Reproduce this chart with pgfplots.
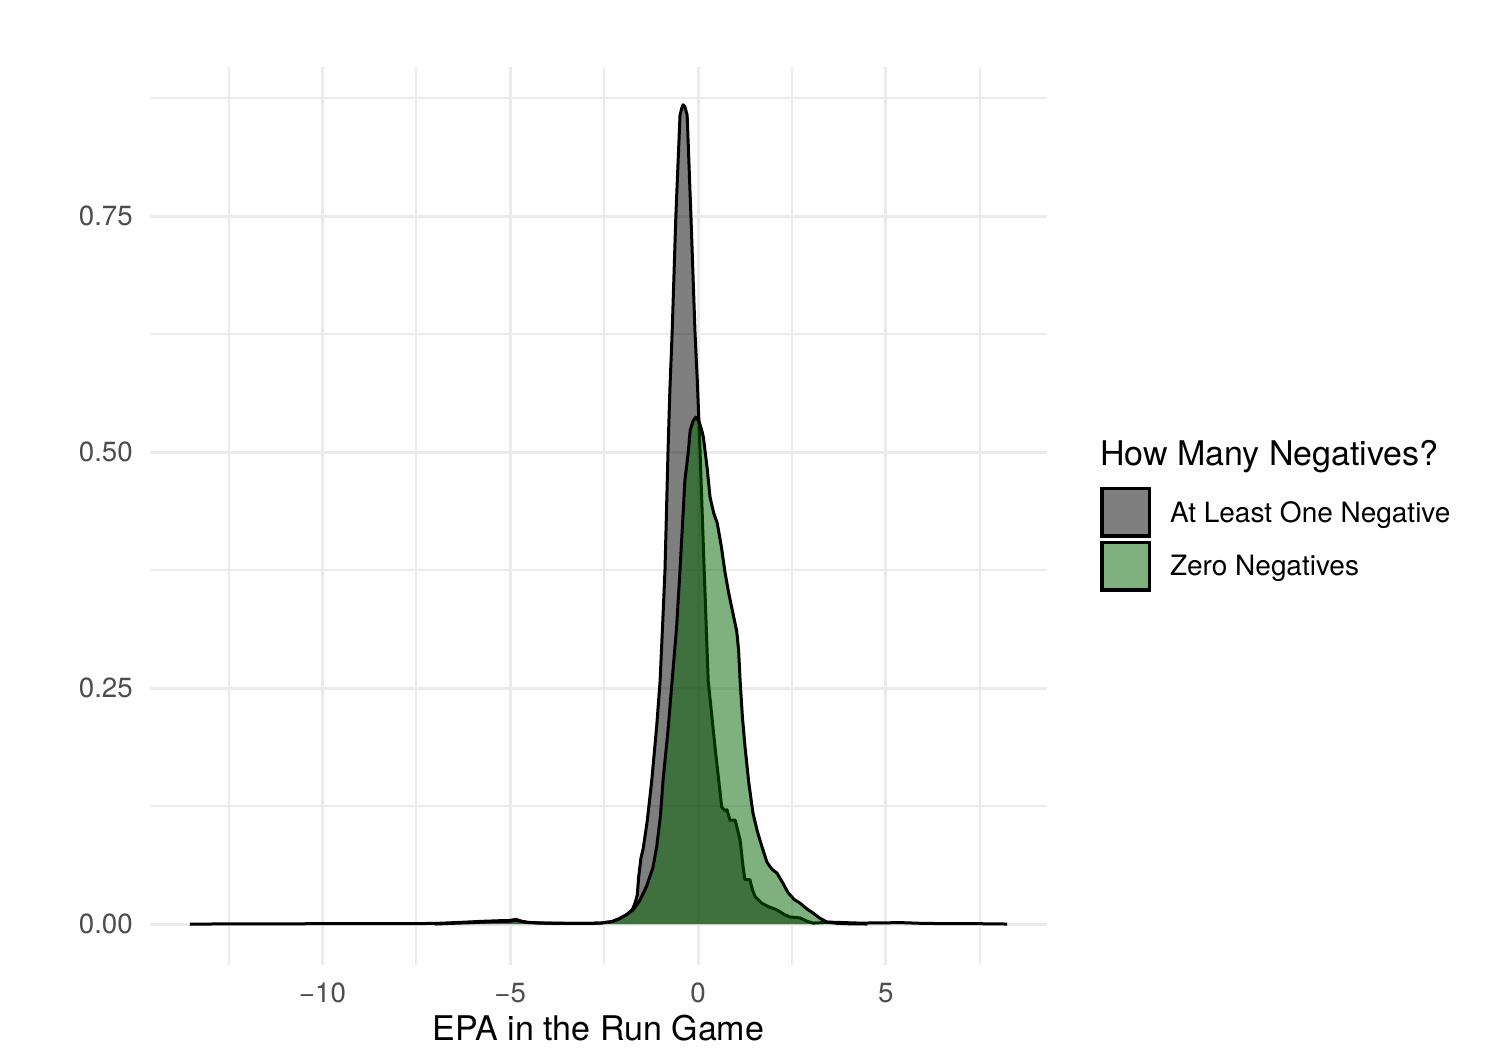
\documentclass[border=0pt]{standalone}
\usepackage{pgfplots}
\pgfplotsset{compat=1.18}
\usepackage{fontspec}
\setmainfont{TeX Gyre Heros}
\definecolor{gridc}{HTML}{EBEBEB}
\definecolor{tickc}{HTML}{4D4D4D}
\definecolor{dkgreen}{RGB}{0,100,0}
\definecolor{keygray}{RGB}{127,127,127}
\definecolor{keygreen}{RGB}{127,177,127}

\pgfplotstableread{
x y
-13.53 0
-12 0.0001
-10.5 0.0003
-9 0.0004
-7.5 0.0004
-6.9 0.0008
-6.3 0.0018
-5.8 0.0028
-5.3 0.0035
-5.0 0.0038
-4.85 0.0050
-4.7 0.0030
-4.5 0.0015
-4.0 0.0010
-3.5 0.0008
-3.0 0.0006
-2.6 0.0010
-2.3 0.0025
-2.1 0.0055
-1.9 0.0100
-1.75 0.0150
-1.68 0.022
-1.62 0.030
-1.58 0.050
-1.52 0.070
-1.46 0.080
-1.35 0.110
-1.23 0.153
-1.10 0.210
-1.01 0.258
-0.94 0.320
-0.88 0.375
-0.80 0.500
-0.75 0.566
-0.69 0.626
-0.59 0.751
-0.48 0.857
-0.43 0.865
-0.40 0.868
-0.35 0.866
-0.29 0.857
-0.19 0.751
-0.08 0.626
-0.02 0.576
0.05 0.505
0.15 0.390
0.27 0.258
0.45 0.188
0.63 0.124
0.72 0.120
0.77 0.121
0.85 0.110
0.99 0.110
1.05 0.100
1.12 0.089
1.20 0.060
1.25 0.047
1.38 0.047
1.45 0.036
1.52 0.029
1.70 0.022
1.90 0.018
2.10 0.015
2.30 0.010
2.45 0.0074
2.60 0.0070
2.72 0.0064
2.90 0.003
3.06 0.001
3.30 0.0015
3.50 0.002
3.90 0.0015
4.30 0.0010
4.80 0.0012
5.40 0.0015
5.90 0.0008
6.40 0.0005
7.00 0.0004
7.60 0.0003
8.23 0
}\grayData

\pgfplotstableread{
x y
-7.0 0
-6.5 0.0008
-6.0 0.0015
-5.5 0.0025
-5.0 0.0030
-4.85 0.0040
-4.6 0.0020
-4.2 0.0010
-3.5 0.0006
-3.0 0.0006
-2.6 0.0010
-2.3 0.0025
-2.1 0.0055
-1.9 0.0100
-1.73 0.0150
-1.55 0.025
-1.37 0.040
-1.20 0.060
-1.10 0.082
-1.00 0.115
-0.93 0.153
-0.80 0.205
-0.69 0.258
-0.57 0.315
-0.48 0.375
-0.35 0.470
-0.26 0.500
-0.21 0.523
-0.13 0.533
-0.06 0.537
0.02 0.533
0.10 0.523
0.14 0.516
0.24 0.484
0.32 0.452
0.42 0.435
0.51 0.425
0.62 0.400
0.72 0.372
0.82 0.350
0.93 0.329
1.03 0.310
1.08 0.290
1.12 0.258
1.18 0.220
1.25 0.188
1.35 0.150
1.46 0.118
1.58 0.098
1.70 0.082
1.84 0.065
1.97 0.058
2.10 0.054
2.25 0.044
2.40 0.033
2.56 0.026
2.72 0.022
2.90 0.016
3.06 0.0117
3.25 0.006
3.44 0.002
3.70 0.0008
4.00 0.0003
4.50 0
}\greenData

\begin{document}
\begin{tikzpicture}
\path[use as bounding box, fill=white] (0,0) rectangle (1503bp,1051bp);
\begin{axis}[
  at={(150bp,86bp)}, anchor=south west,
  scale only axis, width=897bp, height=898bp,
  xmin=-14.59, xmax=9.29, ymin=-0.0434, ymax=0.908,
  axis line style={draw=none},
  major tick length=0pt, minor tick length=0pt,
  xtick={-10,-5,0,5},
  xticklabels={−10,−5,0,5},
  minor xtick={-12.5,-7.5,-2.5,2.5,7.5},
  ytick={0,0.25,0.5,0.75},
  yticklabels={0.00,0.25,0.50,0.75},
  minor ytick={0.125,0.375,0.625,0.875},
  grid=both,
  major grid style={color=gridc, line width=3bp},
  minor grid style={color=gridc, line width=2bp},
  tick label style={font=\fontsize{27.7bp}{33bp}\selectfont, text=tickc, inner sep=0pt},
  xticklabel style={anchor=north, yshift=-18bp},
  yticklabel style={anchor=east, xshift=-17bp},
  xlabel={EPA in the Run Game},
  xlabel style={at={(axis description cs:0.5,0)}, anchor=base, yshift=-75bp, inner sep=0pt,
    font=\fontsize{34bp}{40bp}\selectfont},
  legend image code/.code={\draw[#1, line width=3.5bp] (1.75bp,-23.75bp) rectangle (49.25bp,23.75bp);},
  legend style={at={(axis description cs:1.0591,0.5323)}, anchor=north west,
    draw=none, fill=none, inner sep=0pt, outer sep=0pt,
    row sep=3bp, column sep=0bp,
    nodes={inner sep=0pt, font=\fontsize{28bp}{33bp}\selectfont, text=black},
    cells={anchor=west}},
  legend cell align=left,
  clip=false,
]
\addlegendimage{fill=keygray, draw=black}
\addlegendentry{\hspace{19bp}At Least One Negative}
\addlegendimage{fill=keygreen, draw=black}
\addlegendentry{\hspace{19bp}Zero Negatives}
\addplot[forget plot, draw=none, fill=black, fill opacity=0.5] table[x=x,y=y] {\grayData} \closedcycle;
\addplot[forget plot, draw=black, line width=3bp, line join=round] table[x=x,y=y] {\grayData};
\addplot[forget plot, draw=none, fill=dkgreen, fill opacity=0.5] table[x=x,y=y] {\greenData} \closedcycle;
\addplot[forget plot, draw=black, line width=3bp, line join=round] table[x=x,y=y] {\greenData};
\end{axis}
\node[anchor=base west, inner sep=0pt, font=\fontsize{34bp}{40bp}\selectfont] at (1100bp,585bp) {How Many Negatives?};
\end{tikzpicture}
\end{document}
